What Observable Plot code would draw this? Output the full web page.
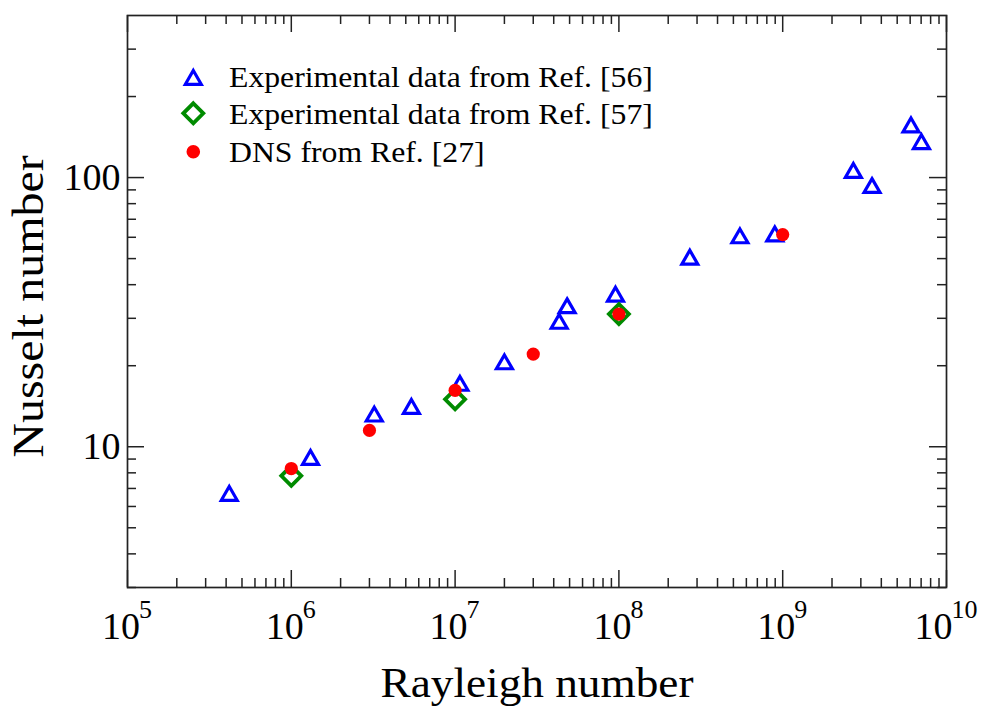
<!DOCTYPE html>
<html>
<head>
<meta charset="utf-8">
<script src="https://cdn.jsdelivr.net/npm/d3@7"></script>
<script src="https://cdn.jsdelivr.net/npm/@observablehq/plot@0.6"></script>
<style>
  html, body { margin: 0; padding: 0; background: #fff; }
  #chart { position: relative; width: 985px; height: 707px; }
</style>
</head>
<body>
<div id="chart"></div>
<script>
// ---- data ----
const ra56 = [4.18e5, 1.31e6, 3.21e6, 5.41e6, 1.07e7, 2.0e7, 4.32e7, 4.83e7, 9.53e7, 2.71e8, 5.48e8, 8.95e8, 2.70e9, 3.51e9, 6.07e9, 7.03e9];
const nu56 = [6.75, 9.18, 13.3, 14.2, 17.3, 20.8, 29.4, 33.6, 37.1, 50.9, 61.1, 62.1, 106.9, 94.0, 157.8, 136.8];
const ra57 = [1e6, 1e7, 1e8];
const nu57 = [7.8, 15.0, 31.1];
const raDNS = [1e6, 3e6, 1e7, 3e7, 1e8, 1e9];
const nuDNS = [8.3, 11.5, 16.2, 22.1, 31.1, 61.4];

const xTickExponents = [5, 6, 7, 8, 9, 10];
const yTickLabels = [10, 100];
const yMinorTicks = [3, 4, 5, 6, 7, 8, 9, 20, 30, 40, 50, 60, 70, 80, 90, 200, 300];
const legendLabels = ["Experimental data from Ref. [56]", "Experimental data from Ref. [57]", "DNS from Ref. [27]"];
const xLabel = "Rayleigh number";
const yLabel = "Nusselt number";

// ---- layout ----
const W = 985, H = 707, mL = 127, mR = 39, mT = 15, mB = 120;
const fw = W - mL - mR, fh = H - mT - mB;
const FONT = "Liberation Serif, Times New Roman, serif";
const ink = "#222";

const d56 = ra56.map((r, i) => ({ra: r, nu: nu56[i]}));
const d57 = ra57.map((r, i) => ({ra: r, nu: nu57[i]}));
const dDNS = raDNS.map((r, i) => ({ra: r, nu: nuDNS[i]}));

const xMajor = xTickExponents.map(e => 10 ** e);
const xMinor = [];
for (let e = 5; e < 10; e++) for (let k = 2; k <= 9; k++) xMinor.push(k * 10 ** e);

const F = 38, Fs = 26;
const ticksOneDigit = xTickExponents.filter(e => String(e).length === 1).map(e => 10 ** e);
const ticksTwoDigit = xTickExponents.filter(e => String(e).length === 2).map(e => 10 ** e);
const start1 = -(F + Fs * 0.5) / 2, start2 = -(F + Fs) / 2;
const expOf = d => String(Math.round(Math.log10(d)));

const tickStyle = {stroke: ink, strokeWidth: 1.5};
const baseLabel = {frameAnchor: "bottom", lineAnchor: "bottom", textAnchor: "start", fontFamily: FONT, fill: "#000"};

const plot = Plot.plot({
  width: W, height: H,
  marginLeft: mL, marginRight: mR, marginTop: mT, marginBottom: mB,
  style: {fontFamily: FONT, background: "#fff"},
  x: {type: "log", domain: [1e5, 1e10], axis: null},
  y: {type: "log", domain: [3, 400], axis: null},
  marks: [
    // ticks (inward, all four sides)
    Plot.tickX(xMajor, {x: d => d, insetTop: fh - 17, ...tickStyle}),
    Plot.tickX(xMajor, {x: d => d, insetBottom: fh - 17, ...tickStyle}),
    Plot.tickX(xMinor, {x: d => d, insetTop: fh - 9, ...tickStyle}),
    Plot.tickX(xMinor, {x: d => d, insetBottom: fh - 9, ...tickStyle}),
    Plot.tickY(yTickLabels, {y: d => d, insetRight: fw - 17, ...tickStyle}),
    Plot.tickY(yTickLabels, {y: d => d, insetLeft: fw - 17, ...tickStyle}),
    Plot.tickY(yMinorTicks, {y: d => d, insetRight: fw - 9, ...tickStyle}),
    Plot.tickY(yMinorTicks, {y: d => d, insetLeft: fw - 9, ...tickStyle}),
    Plot.frame({stroke: ink, strokeWidth: 1.7}),
    // x tick labels 10^n
    Plot.text(ticksOneDigit, {x: d => d, text: () => "10", dx: start1, dy: 51, fontSize: F, ...baseLabel}),
    Plot.text(ticksOneDigit, {x: d => d, text: expOf, dx: start1 + F - 1, dy: 30, fontSize: Fs, ...baseLabel}),
    Plot.text(ticksTwoDigit, {x: d => d, text: () => "10", dx: start2, dy: 51, fontSize: F, ...baseLabel}),
    Plot.text(ticksTwoDigit, {x: d => d, text: expOf, dx: start2 + F - 1, dy: 30, fontSize: Fs, ...baseLabel}),
    // y tick labels
    Plot.text(yTickLabels, {y: d => d, text: d => String(d), frameAnchor: "left", textAnchor: "end", dx: -7, fontSize: F, fontFamily: FONT, fill: "#000"}),
    // axis titles
    Plot.text([xLabel], {text: d => d, frameAnchor: "bottom", textAnchor: "middle", lineAnchor: "bottom", dy: 109, fontSize: 42, fontFamily: FONT, fill: "#000"}),
    Plot.text([yLabel], {text: d => d, frameAnchor: "left", textAnchor: "middle", rotate: -90, lineAnchor: "bottom", dx: -85, dy: 5, fontSize: 44, fontFamily: FONT, fill: "#000"}),
    // data
    Plot.dot(d56, {x: "ra", y: "nu", symbol: "triangle2", r: 7.6, stroke: "#0000ff", strokeWidth: 3.2, fill: "none", dy: 3}),
    Plot.dot(d57, {x: "ra", y: "nu", symbol: "diamond2", r: 9, stroke: "#008b00", strokeWidth: 3.8, fill: "none"}),
    Plot.dot(dDNS, {x: "ra", y: "nu", r: 6.6, fill: "#ff0000", stroke: "none"})
  ]
});

// slightly widen the title glyphs to match the reference lettering
plot.querySelectorAll("text").forEach(t => {
  const s = t.textContent === xLabel ? 1.078 : t.textContent === yLabel ? 1.09 : 0;
  if (s) t.setAttribute("transform", (t.getAttribute("transform") || "") + ` scale(${s},1)`);
});

const chart = document.getElementById("chart");
chart.appendChild(plot);

// ---- legend (inside the frame, top-left) ----
const leg = d3.select(chart).append("svg")
  .attr("width", W).attr("height", H)
  .style("position", "absolute").style("left", "0px").style("top", "0px")
  .style("pointer-events", "none");
const legendSymbols = [
  {sym: d3.symbolTriangle2, r: 7.6, stroke: "#0000ff", sw: 3.2, fill: "none", cy: 76.7 + 3},
  {sym: d3.symbolDiamond2, r: 9, stroke: "#008b00", sw: 3.8, fill: "none", cy: 113.3},
  {sym: d3.symbolCircle, r: 6.8, stroke: "none", sw: 0, fill: "#ff0000", cy: 151.7}
];
legendLabels.forEach((label, i) => {
  const s = legendSymbols[i];
  leg.append("path")
    .attr("d", d3.symbol(s.sym, s.r * s.r * Math.PI)())
    .attr("transform", `translate(193.3,${s.cy})`)
    .attr("fill", s.fill).attr("stroke", s.stroke).attr("stroke-width", s.sw);
  leg.append("text")
    .attr("transform", `translate(229,${[86.7, 124, 162][i]}) scale(1.058,1)`)
    .attr("font-family", FONT).attr("font-size", 30).attr("fill", "#000")
    .text(label);
});
</script>
</body>
</html>
